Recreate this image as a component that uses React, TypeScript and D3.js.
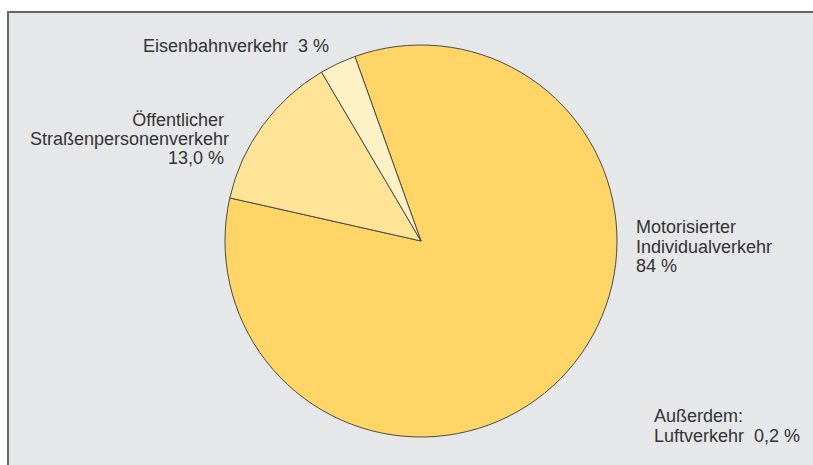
import React from "react";
import * as d3 from "d3";

const categories = ["Motorisierter Individualverkehr", "Öffentlicher Straßenpersonenverkehr", "Eisenbahnverkehr"];
const values = [84, 13.0, 3];
const colors = ["#FFD567", "#FFE396", "#FFF1C6"];

const labelMotor = ["Motorisierter", "Individualverkehr", "84 %"];
const labelOeff = ["Öffentlicher ", "Straßenpersonenverkehr", "13,0 % "];
const labelBahn = ["Eisenbahnverkehr  3 %"];
const labelLuft = ["Außerdem:", "Luftverkehr  0,2 %"];

export default function App() {
  const W = 813, H = 465;
  const cx = 421, cy = 241, r = 196;
  const start = (-19.7 * Math.PI) / 180;
  const pie = d3.pie<number>().sort(null).startAngle(start).endAngle(start + 2 * Math.PI);
  const arcs = pie(values);
  const arc = d3.arc<d3.PieArcDatum<number>>().innerRadius(0).outerRadius(r);
  const font = { fontFamily: "'Liberation Sans', Arial, sans-serif", fontSize: 18, fill: "#333" };
  return (
    <svg width={W} height={H} style={{ position: "absolute", left: 0, top: 0 }}>
      <rect x={0} y={0} width={W} height={H} fill="#fff" />
      <rect x={7} y={11} width={W} height={H} fill="#E6E7E9" />
      <line x1={7} y1={12} x2={W} y2={12} stroke="#666" strokeWidth={2} />
      <line x1={8} y1={11} x2={8} y2={H} stroke="#666" strokeWidth={2} />
      <g transform={`translate(${cx},${cy})`}>
        {arcs.map((a, i) => (
          <path key={categories[i]} d={arc(a) || ""} fill={colors[i]} stroke="#4a4a4a" strokeWidth={1} />
        ))}
      </g>
      <text {...font} x={329} y={52} textAnchor="end" style={{ whiteSpace: "pre" }}>{labelBahn[0]}</text>
      {labelOeff.map((t, i) => (
        <text key={t} {...font} x={229} y={126 + i * 19} textAnchor="end" style={{ whiteSpace: "pre" }}>{t}</text>
      ))}
      {labelMotor.map((t, i) => (
        <text key={t} {...font} x={636} y={233 + i * 19.5} textAnchor="start">{t}</text>
      ))}
      {labelLuft.map((t, i) => (
        <text key={t} {...font} x={654} y={422 + i * 20} textAnchor="start" style={{ whiteSpace: "pre" }}>{t}</text>
      ))}
    </svg>
  );
}
